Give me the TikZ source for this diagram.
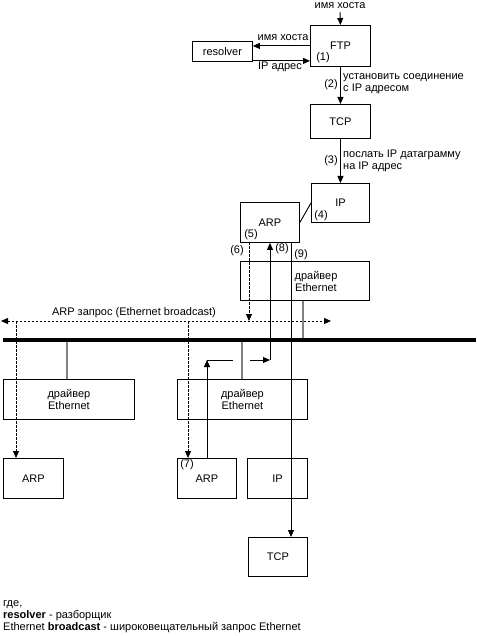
\documentclass[tikz,border=0pt]{standalone}
\usepackage{fontspec}
\setmainfont{Liberation Sans}
\usetikzlibrary{arrows.meta}
\begin{document}
\begin{tikzpicture}[x=1pt,y=-1pt,
  font=\fontsize{11}{12}\selectfont,
  box/.style={draw, line width=0.9pt, anchor=north west, inner sep=0pt, align=center},
  tip/.style={-{Triangle[length=7pt,width=6pt]}},
  lbl/.style={inner sep=0pt, align=left},
  stub/.style={draw=gray, line width=1.1pt},
  dsh/.style={dashed, dash pattern=on 2.5pt off 1.5pt, line width=0.8pt},
  conn/.style={line width=0.9pt}]
\useasboundingbox (0,0) rectangle (476,636);
% boxes
\node[box, minimum width=60pt, minimum height=41pt] (ftp) at (310,25) {FTP};
\node[box, minimum width=60pt, minimum height=20pt] (resolver) at (192,41) {resolver};
\node[box, minimum width=60pt, minimum height=34pt] (tcp1) at (310,104) {TCP};
\node[box, minimum width=58pt, minimum height=39pt] (ip1) at (311,183) {IP};
\node[box, minimum width=59pt, minimum height=40pt] (arp1) at (240,202) {ARP};
\node[box, minimum width=129pt, minimum height=39pt] (drv1) at (240,261) {};
\node[lbl, align=center] (drv1t) at (316,281) {драйвер\\Ethernet};
\node[box, minimum width=131pt, minimum height=40pt] (drv2) at (3,379) {драйвер\\Ethernet};
\node[box, minimum width=130pt, minimum height=40pt] (drv3) at (177,379) {драйвер\\Ethernet};
\node[box, minimum width=60pt, minimum height=40pt] (arp2) at (3,458) {ARP};
\node[box, minimum width=59pt, minimum height=40pt] (arp3) at (177,458) {ARP};
\node[box, minimum width=60pt, minimum height=40pt] (ip2) at (247,458) {IP};
\node[box, minimum width=59pt, minimum height=39pt] (tcp2) at (248,537) {TCP};
% coordinates
\coordinate (top) at (340,12);
\coordinate (bcL) at (1,321);
\coordinate (bcR) at (331,321);
\coordinate (busL) at (3,340);
\coordinate (busR) at (476,340);
\coordinate (d1) at (16,321);
\coordinate (d2) at (188,321);
\coordinate (d6) at (249,242);
\coordinate (s1) at (67,342);
\coordinate (s2) at (242,342);
\coordinate (s3) at (303,338);
\coordinate (r1) at (207,360);
\coordinate (r2) at (233,360);
\coordinate (r3) at (250,360);
\coordinate (r4) at (270,360);
\coordinate (c9) at (291,243);
% top connectors
\node[lbl, anchor=north] (lblhost) at (340,2) {имя хоста};
\draw[conn,tip] (top) -- (ftp.north);
\draw[conn,tip] (ftp.west) -- (ftp.west -| resolver.east);
\node[lbl] (lblhost2) at (283,38) {имя хоста};
\draw[conn,tip] ([yshift=1pt]resolver.south east) -- ([yshift=1pt]resolver.south east -| ftp.west);
\node[lbl] (lblip) at (280,67) {IP адрес};
\node[lbl] (n1) at (323,58) {(1)};
\draw[conn,tip] (ftp) -- (tcp1);
\node[lbl] (n2) at (331,85) {(2)};
\node[lbl, anchor=west] (lbl2) at (343,84) {установить соединение\\с IP адресом};
\draw[conn,tip] (tcp1) -- (ip1.north -| tcp1);
\node[lbl] (n3) at (331,161) {(3)};
\node[lbl, anchor=west] (lbl3) at (343,161) {послать IP датаграмму\\на IP адрес};
\draw[conn] (arp1.east) -- (ip1.west);
\node[lbl] (n4) at (321,216) {(4)};
\node[lbl] (n5) at (251,235) {(5)};
\node[lbl] (n6) at (237,251) {(6)};
\node[lbl] (n8) at (282,249) {(8)};
\node[lbl] (n9) at (301,255) {(9)};
\node[lbl] (n7) at (187,465) {(7)};
% broadcast
\draw[dsh, {Triangle[length=7pt,width=6pt]}-{Triangle[length=7pt,width=6pt]}] (bcL) -- (bcR);
\node[lbl] (lblbc) at (134,313) {ARP запрос (Ethernet broadcast)};
\draw[dsh, tip] (d6) -- (d6 |- bcL);
\draw[dsh, tip] (d1) -- (d1 |- arp2.north);
\draw[dsh, tip] (d2) -- (d2 |- arp3.north);
% bus
\draw[line width=4.5pt] (busL) -- (busR);
\draw[stub] (s1) -- (s1 |- drv2.north);
\draw[stub] (s2) -- (s2 |- drv3.north);
\draw[stub] (s3) -- (s3 |- drv1.south);
% reply path (8)
\draw[conn, tip] (r1 |- arp3.north) -- (r1);
\draw[conn] (r1) -- (r2);
\draw[conn, tip] (r3) -- (r4);
\draw[conn, tip] (r4) -- (r4 |- arp1.south);
% (9)
\draw[conn, tip] (c9) -- (c9 |- tcp2.north);
% legend
\node[lbl, anchor=north west] (legend) at (3,600) {где,\\\textbf{resolver} - разборщик\\Ethernet \textbf{broadcast} - широковещательный запрос Ethernet};
\end{tikzpicture}
\end{document}
